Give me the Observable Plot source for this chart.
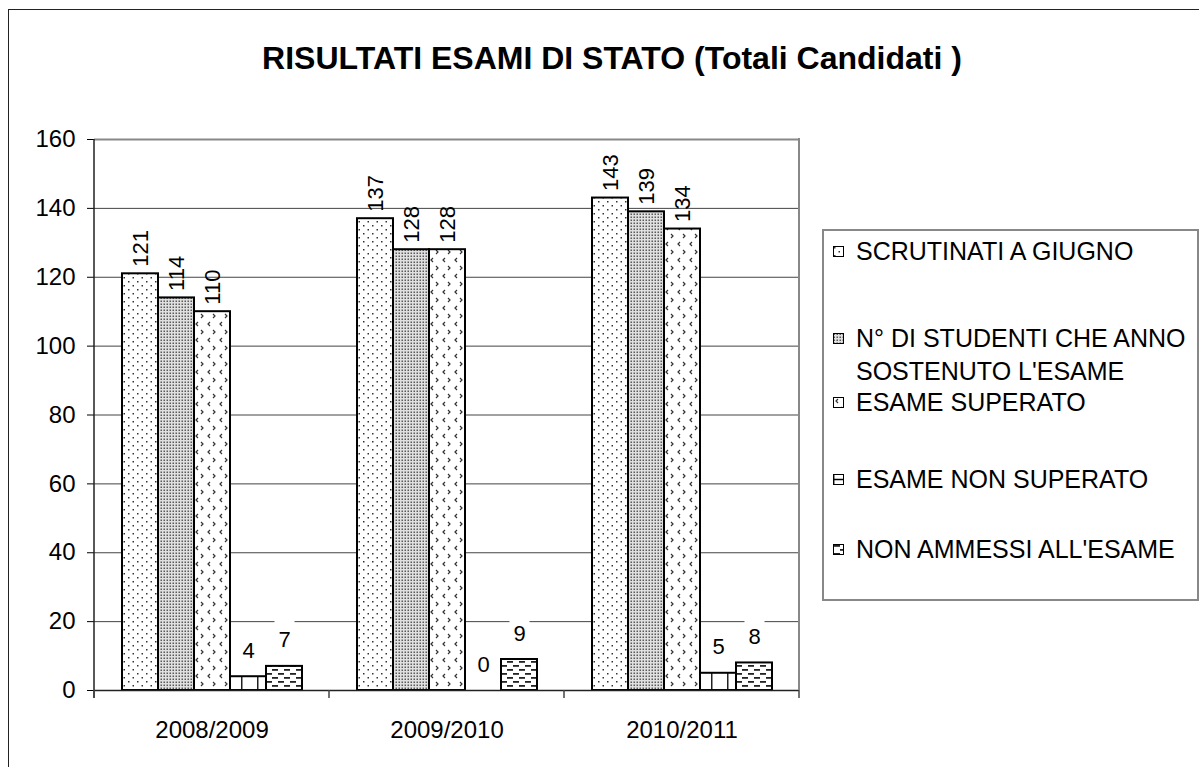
<!DOCTYPE html>
<html><head><meta charset="utf-8">
<script src="https://cdn.jsdelivr.net/npm/d3@7"></script>
<script src="https://cdn.jsdelivr.net/npm/@observablehq/plot@0.6"></script>
<style>
body{margin:0;background:#fff;font-family:"Liberation Sans",Arial,sans-serif;}
#wrap{position:relative;width:1199px;height:767px;overflow:hidden;}
#chart{position:absolute;left:0;top:0;}
#border{position:absolute;left:8px;top:9px;width:1300px;height:900px;border:1.5px solid #222;}
#title{position:absolute;left:0;width:1224px;top:40px;text-align:center;font-weight:bold;font-size:32px;line-height:36px;}
#legend{position:absolute;left:822px;top:229px;width:373px;height:368px;border:2px solid #888;background:#fff;}
.item{position:absolute;left:32px;font-size:25px;line-height:32.5px;white-space:nowrap;}
.item svg{position:absolute;left:-23px;top:11px;}
</style></head>
<body><div id="wrap">
<div id="border"></div>
<div id="chart"></div>
<div id="title"></div>
<div id="legend"></div>
</div>
<script>
const title = "RISULTATI ESAMI DI STATO (Totali Candidati )";
const years = ["2008/2009", "2009/2010", "2010/2011"];
const series = ["SCRUTINATI A GIUGNO", "N° DI STUDENTI CHE ANNO SOSTENUTO L'ESAME", "ESAME SUPERATO", "ESAME NON SUPERATO", "NON AMMESSI ALL'ESAME"];
const legendLines = [["SCRUTINATI A GIUGNO"], ["N° DI STUDENTI CHE ANNO", "SOSTENUTO L'ESAME"], ["ESAME SUPERATO"], ["ESAME NON SUPERATO"], ["NON AMMESSI ALL'ESAME"]];
const scrutinati = [121, 137, 143];
const sostenuto = [114, 128, 139];
const superato = [110, 128, 134];
const nonSuperato = [4, 0, 5];
const nonAmmessi = [7, 9, 8];
const yTicks = [0, 20, 40, 60, 80, 100, 120, 140, 160];

const values = [scrutinati, sostenuto, superato, nonSuperato, nonAmmessi];
const table = [];
years.forEach((y, j) => series.forEach((s, i) => table.push({year: y, series: s, idx: i, value: values[i][j]})));
const big = table.filter(d => d.value >= 20);
const small = table.filter(d => d.value < 20);

const font = '"Liberation Sans", Arial, sans-serif';

const chart = Plot.plot({
  width: 1199, height: 767,
  marginLeft: 93, marginRight: 399, marginTop: 139, marginBottom: 77,
  style: {fontFamily: font, fontSize: "24px", background: "transparent", color: "#000"},
  fx: {domain: years, padding: 0, label: null, tickSize: 0, tickPadding: 30, axis: "bottom"},
  x: {domain: series, paddingInner: 0, paddingOuter: 0.737, axis: null},
  y: {domain: [0, 160], ticks: yTicks, tickSize: 7, tickPadding: 12, label: null, tickFormat: d => String(d)},
  marks: [
    Plot.ruleY(yTicks.filter(t => t > 0 && t < 160), {stroke: "#444", strokeWidth: 1}),
    // white label boxes (hide gridlines behind small labels)
    Plot.dot(small, {fx: "year", x: "series", y: "value", symbol: "square", r: 11.3, fill: "white", stroke: "none", dy: -38}),
    Plot.dot(small, {fx: "year", x: "series", y: "value", symbol: "square", r: 11.3, fill: "white", stroke: "none", dy: -27}),
    ...series.map((s, i) => Plot.barY(table.filter(d => d.idx === i && d.value > 0), {fx: "year", x: "series", y: "value", fill: `url(#pat${i})`, stroke: "#000", strokeWidth: 2})),
    Plot.ruleY([160], {stroke: "#888", strokeWidth: 2}),
    Plot.ruleY([0], {stroke: "#222", strokeWidth: 1.5}),
    Plot.text(big, {fx: "year", x: "series", y: "value", text: d => String(d.value), rotate: -90, textAnchor: "start", lineAnchor: "middle", dy: -7, fontSize: 22, fill: "#000"}),
    Plot.text(small, {fx: "year", x: "series", y: "value", text: d => String(d.value), lineAnchor: "middle", dy: -26, fontSize: 22, fill: "#000"})
  ]
});

const svgNS = "http://www.w3.org/2000/svg";
const defsStr = `
<pattern id="pat0" patternUnits="userSpaceOnUse" width="9" height="8">
  <rect width="9" height="8" fill="#fff"/>
  <rect x="1" y="1" width="1.5" height="1.5" fill="#333"/>
  <rect x="5.5" y="5" width="1.5" height="1.5" fill="#333"/>
</pattern>
<pattern id="pat1" patternUnits="userSpaceOnUse" width="3" height="3">
  <rect width="3" height="3" fill="#e0e0e0"/>
  <rect x="0.5" y="0.5" width="1.5" height="1.5" fill="#5a5a5a"/>
</pattern>
<pattern id="pat2" patternUnits="userSpaceOnUse" width="12" height="16">
  <rect width="12" height="16" fill="#fff"/>
  <path d="M5,2 L3,4 L5,6" fill="none" stroke="#333" stroke-width="1.2"/>
  <path d="M8,10 L10,12 L8,14" fill="none" stroke="#333" stroke-width="1.2"/>
</pattern>
<pattern id="pat3" patternUnits="userSpaceOnUse" width="16" height="32">
  <rect width="16" height="32" fill="#fff"/>
  <rect x="0" y="0" width="1.5" height="32" fill="#222"/>
  <rect x="0" y="17.5" width="16" height="1.5" fill="#222"/>
</pattern>
<pattern id="pat4" patternUnits="userSpaceOnUse" width="12" height="8">
  <rect width="12" height="8" fill="#fff"/>
  <rect x="1" y="1" width="6" height="1.8" fill="#222"/>
  <rect x="7" y="5" width="5" height="1.8" fill="#222"/>
  <rect x="0" y="5" width="1" height="1.8" fill="#222"/>
</pattern>`;
const defs = document.createElementNS(svgNS, "defs");
defs.innerHTML = defsStr;
chart.insertBefore(defs, chart.firstChild);

// axis frame lines drawn from Plot's own scales
const fx = chart.scale("fx");
const ys = chart.scale("y");
const y0 = ys.apply(0), yTop = ys.apply(160);
const edges = fx.domain.map(d => fx.apply(d));
edges.push(edges[edges.length - 1] + fx.bandwidth);
const g = d3.select(chart).append("g");
g.append("line").attr("x1", edges[0]).attr("x2", edges[0]).attr("y1", yTop).attr("y2", y0 + 8).attr("stroke", "#222").attr("stroke-width", 1.5);
const xr = edges[edges.length - 1];
g.append("line").attr("x1", xr).attr("x2", xr).attr("y1", yTop - 1).attr("y2", y0).attr("stroke", "#888").attr("stroke-width", 2);
edges.forEach(e => g.append("line").attr("x1", e).attr("x2", e).attr("y1", y0).attr("y2", y0 + 8).attr("stroke", "#444").attr("stroke-width", 1.5));

document.getElementById("chart").appendChild(chart);
document.getElementById("title").textContent = title;

// legend
const leg = document.getElementById("legend");
const tops = [4.25, 91.25, 155.25, 231.75, 301.75];
legendLines.forEach((lines, i) => {
  const div = document.createElement("div");
  div.className = "item";
  div.style.top = tops[i] + "px";
  const extra = i === 3 ? `<line x1="0.5" x2="10.5" y1="5.5" y2="5.5" stroke="#000" stroke-width="1.5"/>` : "";
  div.innerHTML = `<svg width="11" height="11"><rect x="0.5" y="0.5" width="10" height="10" fill="url(#pat${i})" stroke="#000" stroke-width="1"/>${extra}</svg>` + lines.join("<br>");
  leg.appendChild(div);
});
</script>
</body></html>
